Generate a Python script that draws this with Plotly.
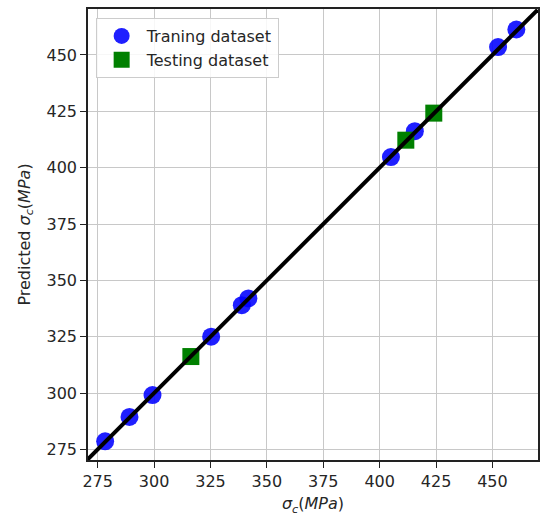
import plotly.graph_objects as go

# Training data (actual vs predicted)
train_actual = [278.3, 289.1, 299.3, 325.3, 338.9, 341.8, 405.0, 415.6, 452.5, 460.6]
train_pred = [278.6, 289.4, 299.1, 325.0, 339.0, 342.0, 404.7, 416.2, 453.5, 461.3]

# Testing data
test_actual = [316.3, 411.6, 424.0]
test_pred = [316.2, 412.2, 424.2]

# Ideal y = x reference line endpoints
ideal_line = [270.0, 470.0]

tick_vals = [275, 300, 325, 350, 375, 400, 425, 450]

FONT = "DejaVu Sans"
TXT = "#262626"
FS = 16

fig = go.Figure()

fig.add_trace(go.Scatter(
    x=train_actual, y=train_pred, mode="markers", name="Traning dataset",
    marker=dict(symbol="circle", size=18, color="blue", opacity=0.88, line=dict(width=0)),
))
fig.add_trace(go.Scatter(
    x=test_actual, y=test_pred, mode="markers", name="Testing dataset",
    marker=dict(symbol="square", size=17, color="green", line=dict(width=0)),
))
fig.add_trace(go.Scatter(
    x=ideal_line, y=ideal_line, mode="lines", showlegend=False,
    line=dict(color="black", width=4),
))

axis_common = dict(
    tickvals=tick_vals,
    showgrid=True, gridcolor="#c8c8c8", gridwidth=1,
    zeroline=False,
    showline=True, linecolor="#222222", linewidth=1.5, mirror=True,
    ticks="outside", ticklen=6, tickwidth=1.2, tickcolor="#222222",
    tickfont=dict(family=FONT, size=FS, color=TXT),
    automargin=False,
)

fig.update_layout(
    width=550, height=527,
    margin=dict(l=88, r=12, t=9, b=67),
    paper_bgcolor="white", plot_bgcolor="white",
    font=dict(family=FONT, size=FS, color=TXT),
    xaxis=dict(range=[270.7, 470.2],
               title=dict(text="<i>σ<sub>c</sub></i>(<i>MPa</i>)", standoff=8,
                          font=dict(family=FONT, size=FS, color=TXT)),
               **axis_common),
    yaxis=dict(range=[270.3, 470.4],
               title=dict(text="Predicted <i>σ<sub>c</sub></i>(<i>MPa</i>)", standoff=12,
                          font=dict(family=FONT, size=FS, color=TXT)),
               **axis_common),
    legend=dict(x=0.017, y=0.98, xanchor="left", yanchor="top",
                bgcolor="rgba(255,255,255,0.85)", bordercolor="#cccccc", borderwidth=1,
                font=dict(family=FONT, size=FS, color=TXT),
                itemsizing="trace", itemwidth=40, tracegroupgap=0),
    showlegend=True,
)

fig.write_html("out.html",
               config={"displayModeBar": False},
               post_script="document.body.style.margin='0';document.body.style.overflow='hidden';")
